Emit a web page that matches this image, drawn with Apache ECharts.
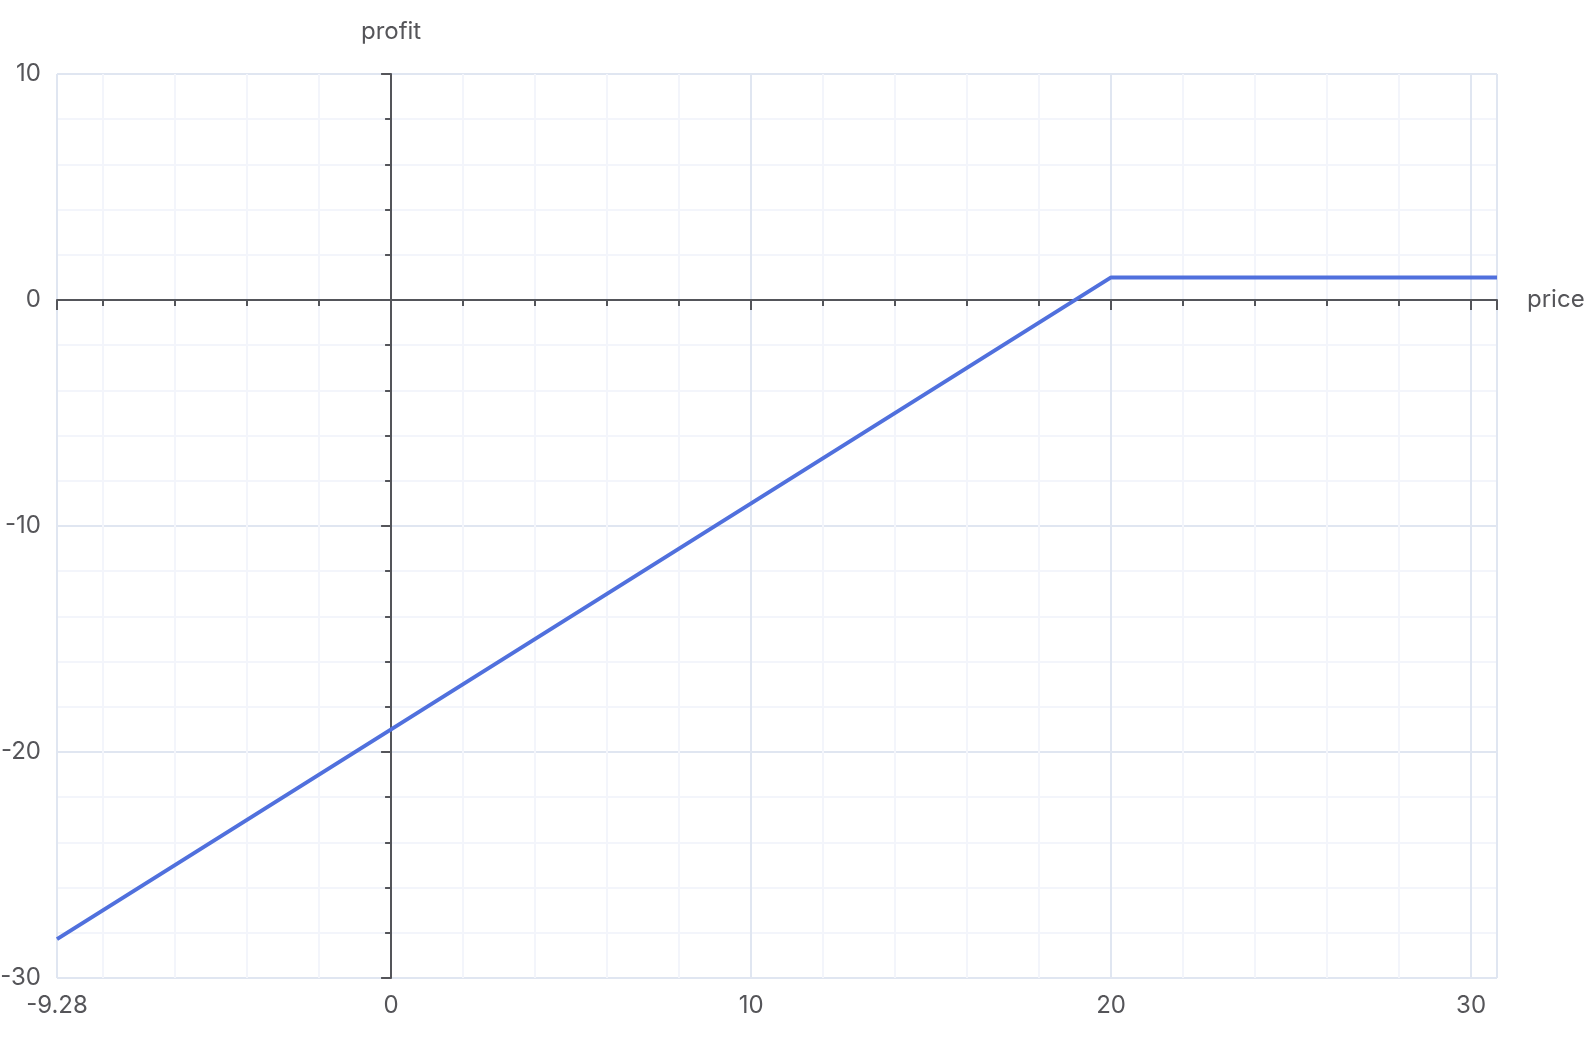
<!DOCTYPE html>
<html>
<head>
<meta charset="utf-8">
<script src="https://cdn.jsdelivr.net/npm/echarts@6/dist/echarts.min.js"></script>
<style>html,body{margin:0;padding:0;background:#fff}#c{width:1588px;height:1038px}</style>
</head>
<body>
<div id="c"></div>
<script>
const priceData = [-9.28, 20, 30.72];
const profitData = [-28.28, 1, 1];
const xMin = -9.28, xMax = 30.72;
const yMin = -30, yMax = 10, yInterval = 10;
const xName = 'price', yName = 'profit';

const FONT = 'Inter, "Liberation Sans", Arial, sans-serif';
const AXIS_COLOR = '#54555a';
const LABEL_COLOR = '#555559';
const SPLIT = '#E0E6F1';
const MINOR = '#F3F5FB';

const chart = echarts.init(document.getElementById('c'));
chart.setOption({
  animation: false,
  textStyle: { fontFamily: FONT },
  grid: { left: 57, right: 91, top: 74, bottom: 60, outerBoundsMode: 'none', containLabel: false },
  xAxis: [
    {
      type: 'value', min: xMin, max: xMax, position: 'bottom',
      axisLine: { show: false, onZero: false },
      axisTick: { show: false },
      axisLabel: { fontSize: 24, margin: 16, color: LABEL_COLOR, fontFamily: FONT },
      splitLine: { show: true, lineStyle: { color: SPLIT, width: 2 } },
      minorSplitLine: { show: true, lineStyle: { color: MINOR, width: 2 } },
      minorTick: { show: false }
    },
    {
      type: 'value', min: xMin, max: xMax, position: 'bottom',
      name: xName, nameGap: 30,
      nameTextStyle: { fontSize: 24, color: LABEL_COLOR, fontFamily: FONT },
      axisLine: { show: true, onZero: true, onZeroAxisIndex: 0, lineStyle: { color: AXIS_COLOR, width: 2 } },
      axisTick: { show: true, length: 10, lineStyle: { color: AXIS_COLOR, width: 2 } },
      minorTick: { show: true, length: 6, lineStyle: { color: AXIS_COLOR, width: 2 } },
      axisLabel: { show: false },
      splitLine: { show: false },
      minorSplitLine: { show: false }
    }
  ],
  yAxis: [
    {
      type: 'value', min: yMin, max: yMax, interval: yInterval, position: 'left',
      axisLine: { show: false, onZero: false },
      axisTick: { show: false },
      axisLabel: { fontSize: 24, margin: 16, color: LABEL_COLOR, fontFamily: FONT },
      splitLine: { show: true, lineStyle: { color: SPLIT, width: 2 } },
      minorSplitLine: { show: true, lineStyle: { color: MINOR, width: 2 } },
      minorTick: { show: false }
    },
    {
      type: 'value', min: yMin, max: yMax, interval: yInterval, position: 'left',
      name: yName, nameGap: 30,
      nameTextStyle: { fontSize: 24, color: LABEL_COLOR, fontFamily: FONT },
      axisLine: { show: true, onZero: true, onZeroAxisIndex: 0, lineStyle: { color: AXIS_COLOR, width: 2 } },
      axisTick: { show: true, length: 10, lineStyle: { color: AXIS_COLOR, width: 2 } },
      minorTick: { show: true, length: 6, lineStyle: { color: AXIS_COLOR, width: 2 } },
      axisLabel: { show: false },
      splitLine: { show: false },
      minorSplitLine: { show: false }
    }
  ],
  series: [{
    type: 'line',
    xAxisIndex: 0, yAxisIndex: 0,
    showSymbol: false, symbol: 'none',
    lineStyle: { width: 4, color: '#5070dd' },
    itemStyle: { color: '#5070dd' },
    data: priceData.map((p, i) => [p, profitData[i]])
  }]
});
</script>
</body>
</html>
